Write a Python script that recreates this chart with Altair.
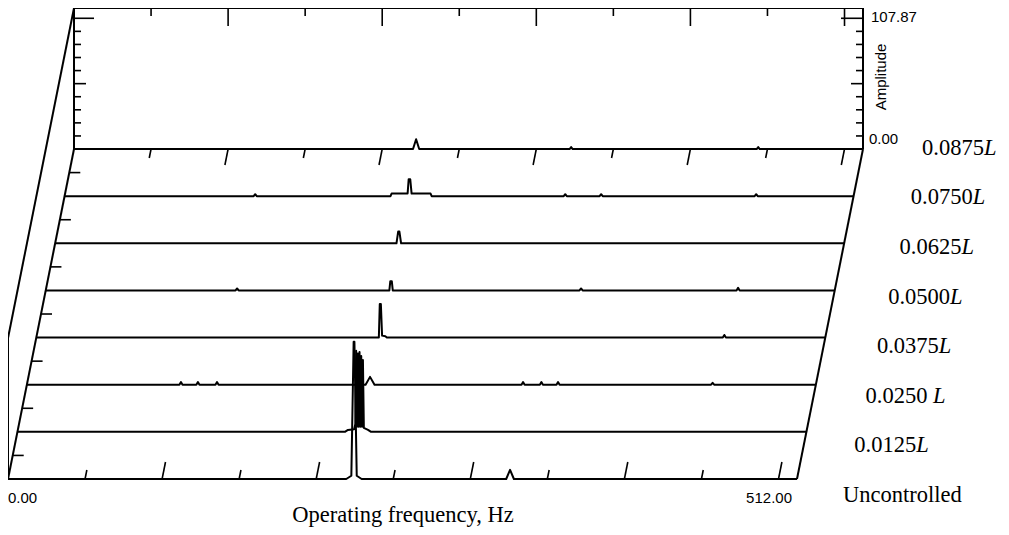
import altair as alt
import pandas as pd

# ---------------- data ----------------
series_names = ["Uncontrolled", "0.0125", "0.0250", "0.0375", "0.0500", "0.0625", "0.0750", "0.0875"]
series_suffix = ["", "L", "\u200b\u00a0L", "L", "L", "L", "L", "L"]

freq_start = 0.0
freq_end = 512.0
amp_top = 107.87

freq_ticks = [50, 100, 150, 200, 250, 300, 350, 400, 450, 500]
amp_ticks = [10, 20, 30, 40, 50, 60, 70, 80, 90, 100]

x_axis_labels = ["0.00", "512.00"]
amp_axis_labels = ["0.00", "107.87"]
x_title = "Operating frequency, Hz"
amp_title = "Amplitude"

# spectra (frequency in Hz, amplitude)
uncontrolled_f = [0, 219.5, 222.8, 224.3, 224.8, 226.3, 229.5, 323.3, 325.8, 328.3, 512]
uncontrolled_a = [0, 0, 2.5, 105, 105, 2.5, 0, 0, 7, 0, 0]

l0125_f = [0, 212.5, 214.5, 218.5, 219.3, 219.8, 220.35, 220.9, 221.45, 222.0, 222.55, 223.1,
           223.65, 224.2, 224.8, 227.5, 229.5, 512]
l0125_a = [0, 0, 1.5, 2, 6, 62, 4, 60, 4, 61, 4, 58,
           4, 55, 3, 1.5, 0, 0]

l0250_f = [0, 99, 100, 101, 110, 111, 112, 122.4, 123.4, 124.4, 219.8, 222.7, 225.6,
           321, 322, 323, 332.9, 333.9, 334.9, 343.7, 344.7, 345.7, 444, 445, 446, 512]
l0250_a = [0, 0, 2, 0, 0, 2, 0, 0, 2, 0, 0, 6, 0,
           0, 2, 0, 0, 2, 0, 0, 2, 0, 0, 1.5, 0, 0]

l0375_f = [0, 222.3, 222.9, 223.6, 224.4, 226.5, 227.5, 445.5, 446.5, 447.5, 512]
l0375_a = [0, 0, 25.6, 25.6, 1.5, 1, 0, 0, 2, 0, 0]

l0500_f = [0, 123.2, 124.2, 125.2, 223, 223.6, 224.6, 225.2, 346.4, 347.4, 348.4, 448.3, 449.3, 450.3, 512]
l0500_a = [0, 0, 1.5, 0, 0, 7, 7, 0, 0, 1.5, 0, 0, 2, 0, 0]

l0625_f = [0, 221.5, 222.6, 223.4, 224.5, 512]
l0625_a = [0, 0, 9, 9, 0, 0]

l0750_f = [0, 122.7, 123.7, 124.7, 211.5, 212.2, 222.6, 223.3, 224.3, 225.2, 237.5, 238.2,
           323.9, 324.9, 325.9, 347.2, 348.2, 349.2, 447.8, 448.8, 449.8, 512]
l0750_a = [0, 0, 1.5, 0, 0, 2, 2, 13, 13, 2, 2, 0,
           0, 1.5, 0, 0, 1.5, 0, 0, 1.5, 0, 0]

l0875_f = [0, 220, 222, 224, 321.6, 322.6, 323.6, 443, 444, 445, 512]
l0875_a = [0, 0, 7.5, 0, 0, 1.5, 0, 0, 1.5, 0, 0]

spectra = [
    (uncontrolled_f, uncontrolled_a),
    (l0125_f, l0125_a),
    (l0250_f, l0250_a),
    (l0375_f, l0375_a),
    (l0500_f, l0500_a),
    (l0625_f, l0625_a),
    (l0750_f, l0750_a),
    (l0875_f, l0875_a),
]

# ---------------- geometry (oblique waterfall projection) ----------------
N = len(series_names) - 1
ROW_PX_X = 9.43
ROW_PX_Y = 47.14
BASE_PX = 471.0                     # front baseline, px below the plot top
PX_X = 1.541                        # px per Hz
PX_Y = (BASE_PX - N * ROW_PX_Y) / amp_top   # px per amplitude unit
DX = ROW_PX_X / PX_X                # per-row shift, Hz units
DY = ROW_PX_Y / PX_Y                # per-row shift, amplitude units
W, H = 993, 519
XMAX = W / PX_X
YMAX = amp_top + N * DY
YMIN = YMAX - H / PX_Y


def P(f, a, r):
    return f + r * DX, a + r * DY


def ux(px):   # page px (reference) -> x units
    return (px - 7) / PX_X


def uy(py):   # page px (reference) -> y units
    return (479 - py) / PX_Y


spec_rows = []
for r, (fs, as_) in enumerate(spectra):
    for f, a in zip(fs, as_):
        spec_rows.append(dict(row=r, f=f, a=a))
spec_df = pd.DataFrame(spec_rows)


def seg(lst, p1, p2):
    lst.append(dict(X1=p1[0], Y1=p1[1], X2=p2[0], Y2=p2[1]))


frame = []
seg(frame, P(0, 0, 0), P(0, amp_top, 0))
seg(frame, P(0, amp_top, 0), P(0, amp_top, N))
seg(frame, P(0, 0, 0), P(0, 0, N))
seg(frame, P(freq_end, 0, 0), P(freq_end, 0, N))
seg(frame, P(0, 0, N), P(0, amp_top, N))
seg(frame, P(freq_end, 0, N), P(freq_end, amp_top, N))
seg(frame, P(0, amp_top, N), P(freq_end, amp_top, N))
frame_df = pd.DataFrame(frame)

ticks = []
for f in freq_ticks:
    major = f % 100 == 0
    L = (18 if major else 8) / PX_Y
    seg(ticks, P(f, amp_top, N), P(f, amp_top - L, N))
    d = (16 if major else 9) / ROW_PX_Y
    seg(ticks, P(f, 0, N), P(f, 0, N - d))
    d = (17 if major else 9) / ROW_PX_Y
    seg(ticks, P(f, 0, 0), P(f, 0, d))
for a in amp_ticks:
    L = (20 if a == 100 else 12 if a == 50 else 7) / PX_X
    seg(ticks, P(0, a, N), P(L, a, N))
    L2 = (22 if a == 100 else 12 if a == 50 else 7) / PX_X
    seg(ticks, P(freq_end, a, N), P(freq_end - L2, a, N))
for r in range(N):
    seg(ticks, P(0, 0, r + 0.5), P(11 / PX_X, 0, r + 0.5))
ticks_df = pd.DataFrame(ticks)

lbl_df = pd.DataFrame(dict(
    row=list(range(N + 1)),
    name=series_names,
    suffix=series_suffix,
))
lbl_df["X"] = ux(842) + lbl_df["row"] * 11.3 / PX_X
lbl_df["Y"] = uy(495) + lbl_df["row"] * 49.6 / PX_Y

xs = alt.Scale(domain=[0, XMAX], nice=False, zero=False)
ys = alt.Scale(domain=[YMIN, YMAX], nice=False, zero=False)


def XQ(field):
    return alt.X(field, type="quantitative", scale=xs, axis=None)


def YQ(field):
    return alt.Y(field, type="quantitative", scale=ys, axis=None)


lines = alt.Chart(spec_df).transform_calculate(
    X=f"datum.f + datum.row * {DX}",
    Y=f"datum.a + datum.row * {DY}",
).mark_line(color="black", strokeWidth=2, strokeJoin="round").encode(
    x=XQ("X"), y=YQ("Y"), detail="row:N", order="f:Q"
)

frame_layer = alt.Chart(frame_df).mark_rule(color="black", strokeWidth=2).encode(
    x=XQ("X1"), y=YQ("Y1"), x2="X2", y2="Y2"
)
tick_layer = alt.Chart(ticks_df).mark_rule(color="black", strokeWidth=1.6).encode(
    x=XQ("X1"), y=YQ("Y1"), x2="X2", y2="Y2"
)

serif = "Liberation Serif"
sans = "Liberation Sans"
LBL_SIZE = 22.5

name_text = alt.Chart(lbl_df).mark_text(
    align="left", baseline="middle", font=serif, fontSize=LBL_SIZE, color="black"
).encode(x=XQ("X"), y=YQ("Y"), text="name:N")
suffix_text = alt.Chart(lbl_df).mark_text(
    align="left", baseline="middle", font=serif, fontSize=LBL_SIZE, fontStyle="italic",
    dx=2.75 * LBL_SIZE, color="black"
).encode(x=XQ("X"), y=YQ("Y"), text="suffix:N")

bottom_df = pd.DataFrame(dict(
    text=x_axis_labels,
    X=[freq_start, ux(791)],
    Y=[uy(498), uy(498)],
))
bottom_left = alt.Chart(bottom_df.iloc[[0]]).mark_text(
    align="left", baseline="middle", font=sans, fontSize=15, color="black"
).encode(x=XQ("X"), y=YQ("Y"), text="text:N")
bottom_right = alt.Chart(bottom_df.iloc[[1]]).mark_text(
    align="right", baseline="middle", font=sans, fontSize=15, color="black"
).encode(x=XQ("X"), y=YQ("Y"), text="text:N")

amp_df = pd.DataFrame(dict(
    text=amp_axis_labels,
    X=[ux(868), ux(870)],
    Y=[uy(139), uy(17)],
))
amp_labels = alt.Chart(amp_df).mark_text(
    align="left", baseline="middle", font=sans, fontSize=15, color="black"
).encode(x=XQ("X"), y=YQ("Y"), text="text:N")

title_df = pd.DataFrame(dict(text=[x_title], X=[ux(402)], Y=[uy(522)]))
x_title_layer = alt.Chart(title_df).mark_text(
    align="center", baseline="alphabetic", font=serif, fontSize=22.5, color="black"
).encode(x=XQ("X"), y=YQ("Y"), text="text:N")

amp_title_df = pd.DataFrame(dict(text=[amp_title], X=[ux(880)], Y=[uy(77)]))
amp_title_layer = alt.Chart(amp_title_df).mark_text(
    align="center", baseline="middle", font=sans, fontSize=15, angle=270, color="black"
).encode(x=XQ("X"), y=YQ("Y"), text="text:N")

chart = alt.layer(
    frame_layer, tick_layer, lines, name_text, suffix_text,
    bottom_left, bottom_right, amp_labels, x_title_layer, amp_title_layer
).properties(
    width=W, height=H, padding=0,
    autosize=alt.AutoSizeParams(type="none"),
).configure_view(strokeWidth=0)

chart.save("out.html", embed_options={"renderer": "svg", "actions": False})
